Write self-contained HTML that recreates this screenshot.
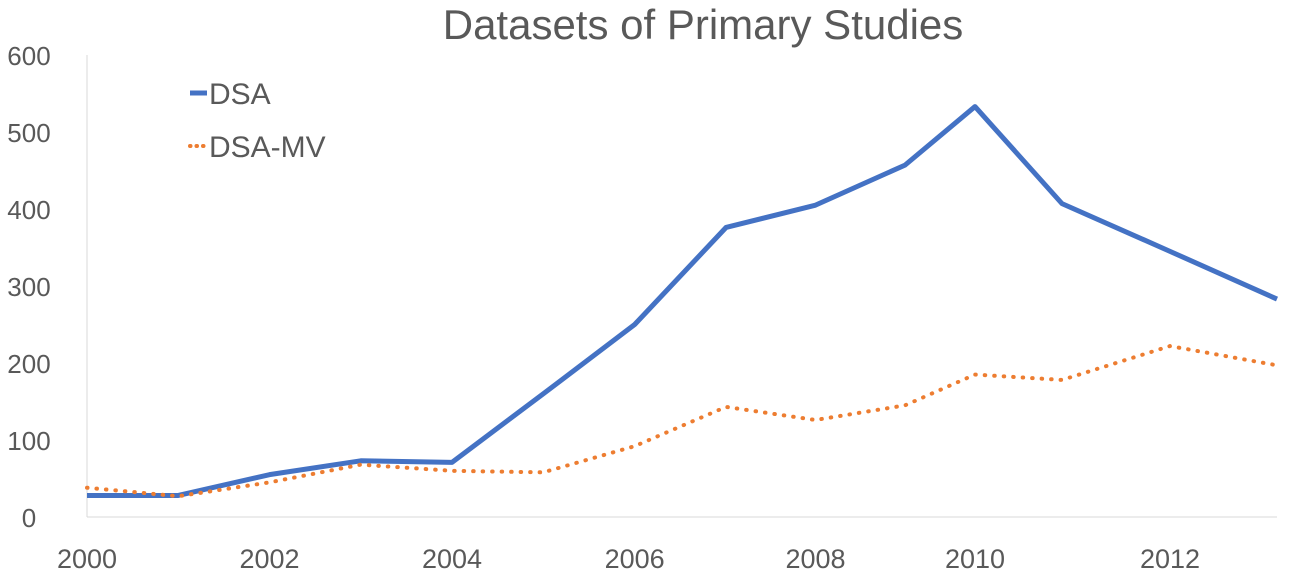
<!DOCTYPE html>
<html><head><meta charset="utf-8"><style>
body{margin:0;background:#fff;width:1290px;height:579px;overflow:hidden}
svg text{font-family:"Liberation Sans",sans-serif;fill:#595959}
</style></head><body>
<svg width="1290" height="579">
<text x="703" y="39" font-size="42" text-anchor="middle">Datasets of Primary Studies</text>
<g id="axes"></g>
<g id="series"></g>
<g>
<line x1="190" y1="93" x2="207" y2="93" stroke="#4472c4" stroke-width="5"/>
<text x="209" y="104" font-size="30">DSA</text>
<line x1="190" y1="146" x2="207" y2="146" stroke="#ed7d31" stroke-width="4" stroke-dasharray="0.5,6" stroke-linecap="round"/>
<text x="209" y="157" font-size="30">DSA-MV</text>
</g>
</svg>
<script>
const years=[2000,2001,2002,2003,2004,2005,2006,2007,2008,2009,2010,2011,2012,2013];
const dsa=[28,28,55,73,71,160,250,376,405,457,533,407,345,283];
const dsaMv=[38,27,45,68,60,58,92,143,126,145,185,178,222,197];
const yTicks=[0,100,200,300,400,500,600];
const xTickLabels=[2000,2002,2004,2006,2008,2010,2012];
const NS='http://www.w3.org/2000/svg';
// piecewise x axis (source image has uneven spacing)
const xKnotYears=[2000,2004,2007,2009,2010,2011,2012,2013];
const xKnotPx=[87,452,726,905,975,1062,1170,1277];
function x(v){for(let i=0;i<xKnotYears.length-1;i++){if(v<=xKnotYears[i+1]){const t=(v-xKnotYears[i])/(xKnotYears[i+1]-xKnotYears[i]);return xKnotPx[i]+t*(xKnotPx[i+1]-xKnotPx[i]);}}return xKnotPx[xKnotPx.length-1];}
const y0=517,y1=55;
function y(v){return y0-(v/600)*(y0-y1);}
const axes=document.getElementById('axes');
function mk(tag,attrs,parent){const e=document.createElementNS(NS,tag);for(const k in attrs)e.setAttribute(k,attrs[k]);parent.appendChild(e);return e;}
let a=mk('line',{x1:87,y1:y1,x2:87,y2:y0,stroke:'#d9d9d9','stroke-width':1},axes);


a=mk('line',{x1:87,y1:y0,x2:1277,y2:y0,stroke:'#d9d9d9','stroke-width':1},axes);


yTicks.forEach(t=>{const e=mk('text',{x:29,y:y(t)+10,'font-size':26,'text-anchor':'middle'},axes);e.textContent=t;

});
xTickLabels.forEach(t=>{const e=mk('text',{x:x(t),y:568,'font-size':27,'text-anchor':'middle'},axes);e.textContent=t;

});
const ser=document.getElementById('series');
function pts(arr){return arr.map((v,i)=>x(years[i])+','+y(v)).join(' ');}
let p=mk('polyline',{points:pts(dsa),fill:'none',stroke:'#4472c4','stroke-width':5,'stroke-linejoin':'round'},ser);


p=mk('polyline',{points:pts(dsaMv),fill:'none',stroke:'#ed7d31','stroke-width':4,'stroke-dasharray':'0.5,9','stroke-linecap':'round','stroke-linejoin':'round'},ser);


</script>
</body></html>
